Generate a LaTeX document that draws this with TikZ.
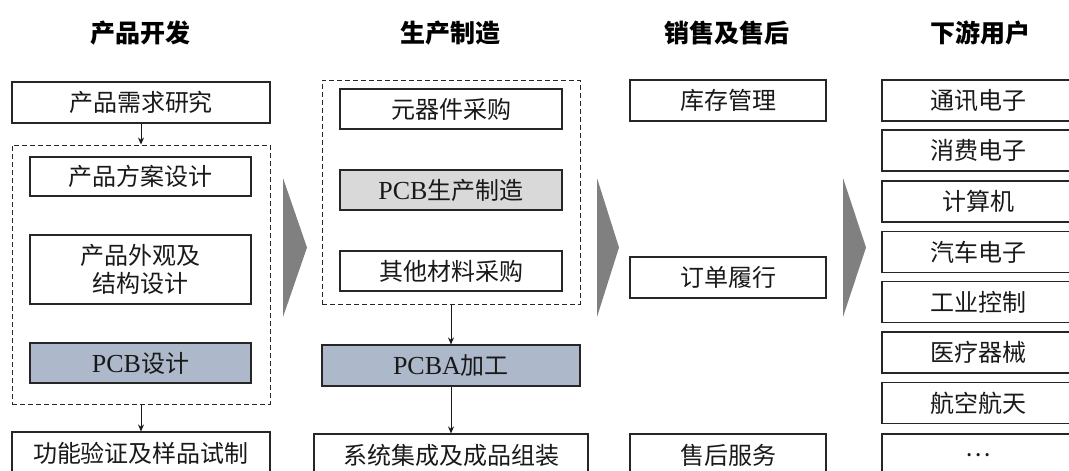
\documentclass[tikz,border=0pt]{standalone}
\usepackage{fontspec}
\setmainfont{Liberation Serif}
\newfontfamily\cjk{Noto Sans CJK SC}
\newfontfamily\lat{Liberation Serif}
\usetikzlibrary{arrows.meta}
\definecolor{pcbblue}{HTML}{ADB8CA}
\definecolor{pcbgrey}{HTML}{D9D9D9}
\definecolor{chev}{HTML}{808080}
\newcommand{\latpcb}[1]{{\lat\fontsize{26}{28}\selectfont #1}}
\tikzset{
  box/.style={draw=black!85, line width=1.1pt, inner sep=0pt, align=center,
    font=\fontsize{24}{28}\selectfont\cjk, text=black!90},
  dashbox/.style={draw=black!85, line width=1pt, dash pattern=on 5pt off 3pt, inner sep=0pt},
  title/.style={font=\fontsize{25}{28}\selectfont\cjk\bfseries, inner sep=0pt},
  conn/.style={draw=black!90, line width=1pt, -{Stealth[length=7pt,width=6pt]}},
  chevron/.style={fill=chev, draw=none}
}
\begin{document}
\begin{tikzpicture}[x=1pt,y=-1pt]
\useasboundingbox (0,0) rectangle (1069,471);
\fill[white] (0,0) rectangle (1069,471);
\begin{scope}
\clip (0,0) rectangle (1069,471);
% titles
\node[title] (t1) at (140,33) {产品开发};
\node[title] (t2) at (450,33) {生产制造};
\node[title] (t3) at (727,33) {销售及售后};
\node[title] (t4) at (980,33) {下游用户};
% column 1
\node[box, minimum width=258pt, minimum height=41pt] (req) at (141,102.5) {产品需求研究};
\node[dashbox, minimum width=258pt, minimum height=259pt] (d1) at (141,274.5) {};
\node[box, minimum width=221pt, minimum height=39pt] (scheme) at (140.5,176.5) {产品方案设计};
\node[box, minimum width=221pt, minimum height=69pt] (appear) at (140.5,269.5) {产品外观及\\结构设计};
\node[box, fill=pcbblue, minimum width=221pt, minimum height=40pt] (pcb) at (140.5,363) {\latpcb{PCB}设计};
\node[box, minimum width=258pt, minimum height=42pt] (verify) at (141,453) {功能验证及样品试制};
% column 2
\node[dashbox, minimum width=258pt, minimum height=224pt] (d2) at (451,192) {};
\node[box, minimum width=222pt, minimum height=40pt] (comp) at (451,109) {元器件采购};
\node[box, fill=pcbgrey, minimum width=222pt, minimum height=40pt] (pcbm) at (451,190) {\latpcb{PCB}生产制造};
\node[box, minimum width=222pt, minimum height=40pt] (other) at (451,271) {其他材料采购};
\node[box, fill=pcbblue, minimum width=258pt, minimum height=41pt] (pcba) at (451,365.5) {\latpcb{PCBA}加工};
\node[box, minimum width=274pt, minimum height=42pt] (sys) at (451,455) {系统集成及成品组装};
% column 3
\node[box, minimum width=196pt, minimum height=41pt] (inv) at (728,100.5) {库存管理};
\node[box, minimum width=196pt, minimum height=41pt] (order) at (728,277.5) {订单履行};
\node[box, minimum width=196pt, minimum height=42pt] (after) at (728,455) {售后服务};
% column 4
\node[box, minimum width=192pt, minimum height=41pt] (u1) at (978,100.5) {通讯电子};
\node[box, minimum width=192pt, minimum height=41pt] (u2) at (978,150.5) {消费电子};
\node[box, minimum width=192pt, minimum height=41pt] (u3) at (978,201.5) {计算机};
\node[box, minimum width=192pt, minimum height=41pt] (u4) at (978,252) {汽车电子};
\node[box, minimum width=192pt, minimum height=41pt] (u5) at (978,302) {工业控制};
\node[box, minimum width=192pt, minimum height=41pt] (u6) at (978,352.5) {医疗器械};
\node[box, minimum width=192pt, minimum height=41pt] (u7) at (978,403) {航空航天};
\node[box, minimum width=192pt, minimum height=42pt] (u8) at (978,455) {…};
% connectors
\draw[conn] (req.south) -- (d1.north);
\draw[conn] (d1.south) -- (verify.north);
\draw[conn] (d2.south) -- (pcba.north);
\draw[conn] (pcba.south) -- (sys.north);
% chevrons
\fill[chevron] (283,178) -- (307,247.5) -- (283,317) -- cycle;
\fill[chevron] (597,178) -- (619,247.5) -- (597,317) -- cycle;
\fill[chevron] (843,178) -- (866,247.5) -- (843,317) -- cycle;
\end{scope}
\end{tikzpicture}
\end{document}
